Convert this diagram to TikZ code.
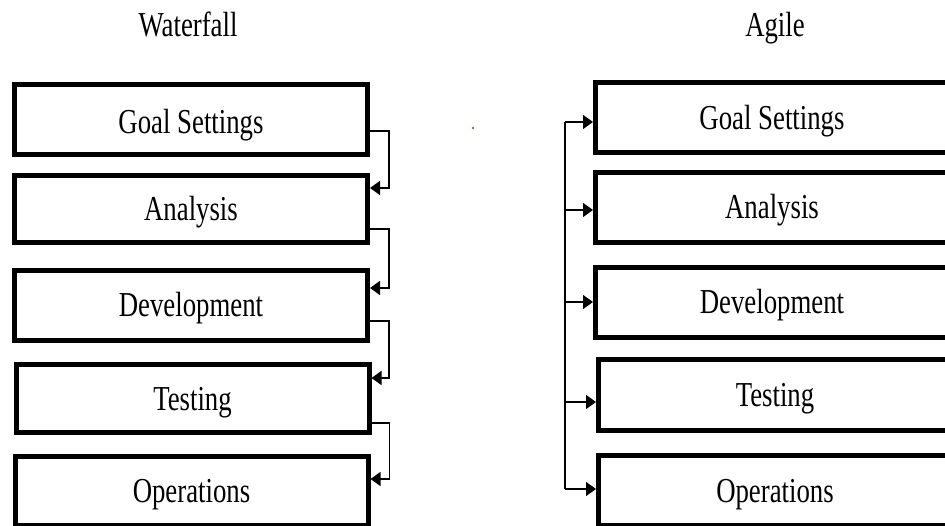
\documentclass[tikz,border=0pt]{standalone}
\usepackage{fontspec}
\setmainfont{Liberation Serif}[FakeStretch=0.765]
\usetikzlibrary{arrows.meta,calc}
\begin{document}
\begin{tikzpicture}[x=1pt,y=-1pt,
  stage/.style={draw=black, line width=5pt, fill=white, rectangle,
    minimum width=353pt, minimum height=70pt, inner sep=0pt,
    text height=23pt, text depth=0pt,
    font=\fontsize{35}{42}\selectfont},
  title/.style={font=\fontsize{35}{42}\selectfont, anchor=base},
  conn/.style={draw=black, line width=1.3pt,
    -{Triangle[length=10pt,width=14pt]}},
  trunk/.style={draw=black, line width=1.3pt}]
\useasboundingbox (0,0) rectangle (945,526);
\clip (0,0) rectangle (945,526);
\fill[white] (0,0) rectangle (945,526);

% titles
\node[title] (tw) at (188,37) {Waterfall};
\node[title] (ta) at (775,37) {Agile};

% waterfall boxes
\node[stage, minimum height=70pt, text height=29pt] (wg) at (191,119.5) {Goal Settings};
\node[stage, minimum height=67pt] (wa) at (191,209) {Analysis};
\node[stage, minimum height=70pt] (wd) at (191,305.5) {Development};
\node[stage, minimum height=68pt] (wt) at (192.5,398.5) {Testing};
\node[stage, minimum height=69pt] (wo) at (191.5,491) {Operations};

% waterfall connectors
\draw[conn] (wg.east |- {0,131}) -- ++(19,0) |- (wa.east |- {0,188});
\draw[conn] (wa.east |- {0,229}) -- ++(19,0) |- (wd.east |- {0,288});
\draw[conn] (wd.east |- {0,321}) -- ++(19,0) |- (wt.east |- {0,378});
\draw[conn] (wt.east |- {0,423}) -- ++(18,0) |- (wo.east |- {0,479});

% agile boxes
\node[stage, minimum height=70pt, text height=25pt] (ag) at (772,117.5) {Goal Settings};
\node[stage, minimum height=70pt] (aa) at (772,207.5) {Analysis};
\node[stage, minimum height=70pt] (ad) at (772,302.5) {Development};
\node[stage, minimum height=71pt] (at) at (775,395) {Testing};
\node[stage, minimum height=70pt] (ao) at (775,490.5) {Operations};

% agile connectors
\coordinate (t1) at (565,122);
\coordinate (t2) at (565,210);
\coordinate (t3) at (565,302);
\coordinate (t4) at (565,402);
\coordinate (t5) at (565,489);
\draw[trunk] (t1) -- (t5);
\draw[conn] (t1) -- (ag.west |- t1);
\draw[conn] (t2) -- (aa.west |- t2);
\draw[conn] (t3) -- (ad.west |- t3);
\draw[conn] (t4) -- (at.west |- t4);
\draw[conn] (t5) -- (ao.west |- t5);

% stray dot
\fill[blue!80] (473,128) circle (1.2pt);
\end{tikzpicture}
\end{document}
